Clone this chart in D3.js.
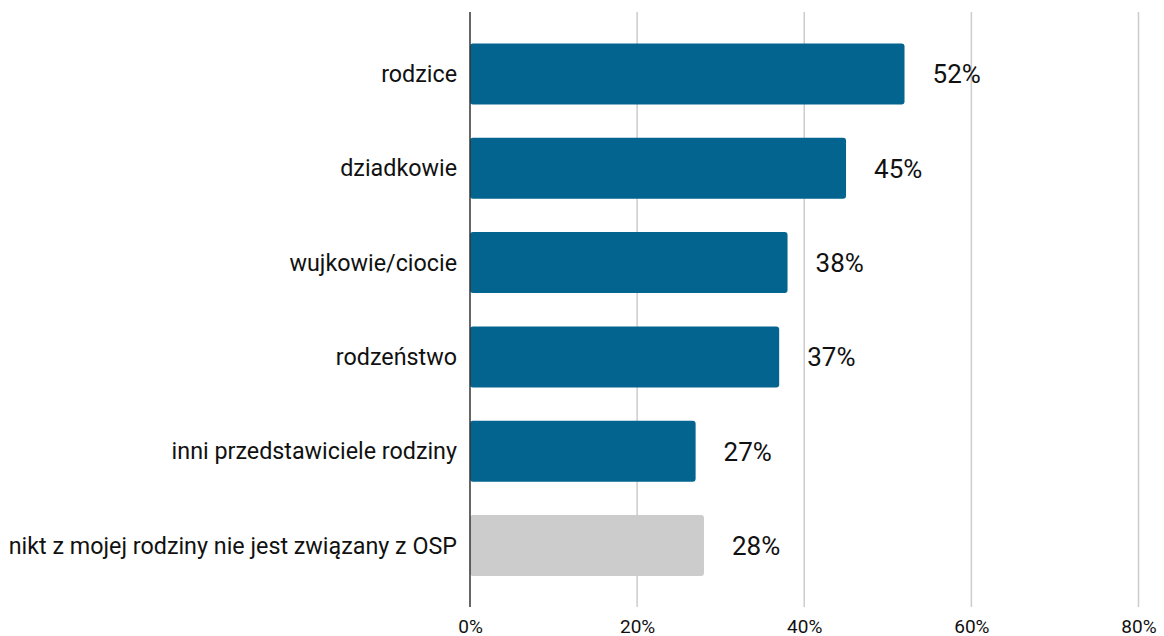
<!DOCTYPE html>
<html>
<head>
<meta charset="utf-8">
<script src="https://cdn.jsdelivr.net/npm/d3@7"></script>
<style>
  html, body { margin: 0; padding: 0; background: #fff; }
  svg { display: block; font-family: Roboto, "Noto Sans", sans-serif; }
</style>
</head>
<body>
<svg id="chart" width="1164" height="636"></svg>
<script>
// Family members connected with the volunteer fire brigade (OSP)
const categories = [
  "rodzice",
  "dziadkowie",
  "wujkowie/ciocie",
  "rodzeństwo",
  "inni przedstawiciele rodziny",
  "nikt z mojej rodziny nie jest związany z OSP"
];
const values = [52, 45, 38, 37, 27, 28];
const barColors = ["#02648f", "#02648f", "#02648f", "#02648f", "#02648f", "#cccccc"];
const tickValues = [0, 20, 40, 60, 80];
const tickLabels = ["0%", "20%", "40%", "60%", "80%"];

const data = categories.map((c, i) => ({ cat: c, val: values[i], color: barColors[i] }));

const svg = d3.select("#chart");

const x = d3.scaleLinear().domain([0, 80]).range([470, 1138.5]);
const y = d3.scaleBand()
  .domain(categories)
  .range([26.85, 592.65])
  .paddingInner(0.353)
  .paddingOuter(0.1765);

const gridTop = 12, gridBottom = 607;

// vertical gridlines
svg.append("g")
  .selectAll("line")
  .data(tickValues.filter(t => t > 0))
  .join("line")
  .attr("x1", d => x(d)).attr("x2", d => x(d))
  .attr("y1", gridTop).attr("y2", gridBottom)
  .attr("stroke", "#cccccc")
  .attr("stroke-width", 1.5);

// bars
svg.append("g")
  .selectAll("rect")
  .data(data)
  .join("rect")
  .attr("x", x(0))
  .attr("y", d => y(d.cat))
  .attr("width", d => x(d.val) - x(0))
  .attr("height", y.bandwidth())
  .attr("rx", 3)
  .attr("fill", d => d.color);

// zero axis line
svg.append("line")
  .attr("x1", x(0)).attr("x2", x(0))
  .attr("y1", gridTop).attr("y2", gridBottom)
  .attr("stroke", "#333333")
  .attr("stroke-width", 1.5);

// category labels
svg.append("g")
  .selectAll("text")
  .data(data)
  .join("text")
  .attr("x", x(0) - 13)
  .attr("y", d => y(d.cat) + y.bandwidth() / 2)
  .attr("dy", "0.35em")
  .attr("text-anchor", "end")
  .attr("font-size", 23.3)
  .attr("fill", "#111")
  .text(d => d.cat);

// value labels
svg.append("g")
  .selectAll("text")
  .data(data)
  .join("text")
  .attr("x", d => x(d.val) + 28)
  .attr("y", d => y(d.cat) + y.bandwidth() / 2)
  .attr("dy", "0.36em")
  .attr("font-size", 26)
  .attr("fill", "#111")
  .text(d => d.val + "%");

// x axis tick labels
const xAxis = d3.axisBottom(x)
  .tickValues(tickValues)
  .tickFormat((d, i) => tickLabels[i])
  .tickSize(0)
  .tickPadding(0);

const ax = svg.append("g")
  .attr("transform", `translate(0, ${gridBottom + 12})`)
  .call(xAxis);
ax.select(".domain").remove();
ax.selectAll("text")
  .attr("font-family", "Roboto, sans-serif")
  .attr("font-size", 19)
  .attr("fill", "#111");
</script>
</body>
</html>
